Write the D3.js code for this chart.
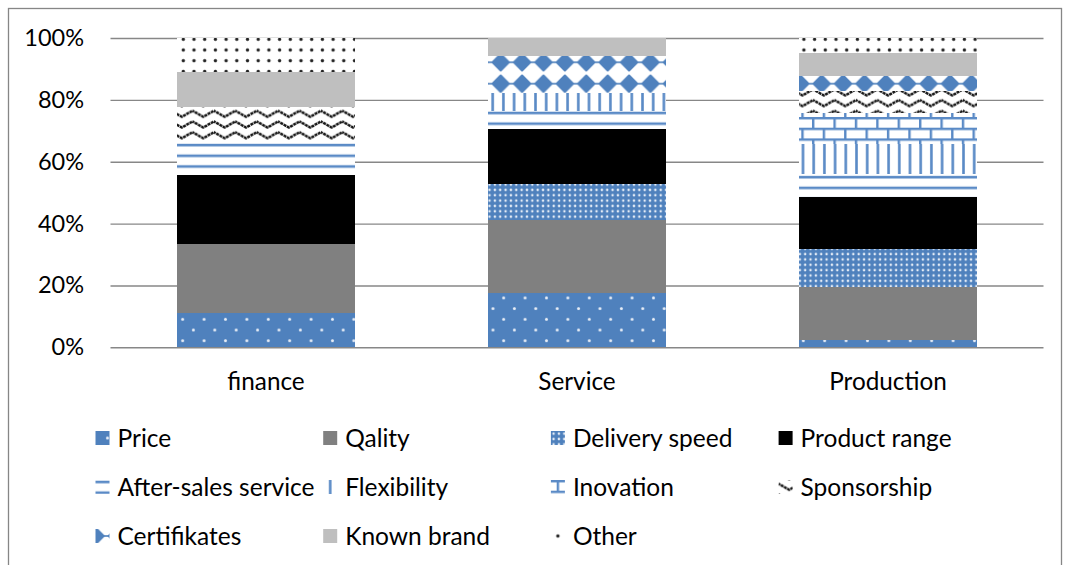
<!DOCTYPE html>
<html><head><meta charset="utf-8">
<script src="https://cdn.jsdelivr.net/npm/d3@7"></script>
<style>
body{margin:0;background:#fff}
svg{display:block}
text{font-family:Lato,'Noto Sans',sans-serif;fill:#000}
</style>
</head><body>
<svg id="chart" width="1065" height="565"></svg>
<script>
// ---------- data (percent of respondents per sector) ----------
const categories = ["finance", "Service", "Production"];
const seriesNames = ["Price", "Qality", "Delivery speed", "Product range",
  "After-sales service", "Flexibility", "Inovation", "Sponsorship",
  "Certifikates", "Known brand", "Other"];
const price        = [11.1, 17.6,  2.4];
const qality       = [22.2, 23.5, 17.1];
const deliverySpeed= [ 0.0, 11.8, 12.2];
const productRange = [22.2, 17.6, 17.1];
const afterSales   = [11.1,  5.9,  7.3];
const flexibility  = [ 0.0,  5.9,  9.8];
const inovation    = [ 0.0,  0.0,  9.8];
const sponsorship  = [11.1,  0.0,  7.3];
const certifikates = [ 0.0, 11.8,  4.9];
const knownBrand   = [11.1,  5.9,  7.3];
const other        = [11.1,  0.0,  4.9];
const yTicks = [0, 0.2, 0.4, 0.6, 0.8, 1.0];

const seriesValues = [price, qality, deliverySpeed, productRange, afterSales,
  flexibility, inovation, sponsorship, certifikates, knownBrand, other];
const rows = categories.map((c, i) => {
  const r = {category: c};
  seriesNames.forEach((s, k) => r[s] = seriesValues[k][i]);
  return r;
});

// ---------- layout ----------
const plot = {left: 110.5, right: 1043.5, top: 38, bottom: 347.3};
const BLUE = "#4F81BD", LINEBLUE = "#5A8AC6";
const T = 10.7;

const svg = d3.select("#chart");
svg.append("rect").attr("x", 8.5).attr("y", 8.5).attr("width", 1053).attr("height", 600)
  .attr("fill", "#fff").attr("stroke", "#868686").attr("stroke-width", 1.3);

// ---------- patterns ----------
const defs = svg.append("defs");
function pat(id, w, h, ox, oy) {
  return defs.append("pattern").attr("id", id).attr("patternUnits", "userSpaceOnUse")
    .attr("width", w).attr("height", h).attr("x", ox).attr("y", oy);
}
// Price: blue with sparse white dots
{ const p = pat("pPrice", 2*T, 2*T, -4.55, 3.65);
  p.append("rect").attr("width", 2*T).attr("height", 2*T).attr("fill", BLUE);
  [[T/2, T/2], [1.5*T, 1.5*T]].forEach(([x, y]) =>
    p.append("circle").attr("cx", x).attr("cy", y).attr("r", 1.5).attr("fill", "#e8eef7")); }
// Delivery speed: blue with dense white dot grid
{ const p = pat("pDelivery", T/2, T/2, 0, 0);
  p.append("rect").attr("width", T/2).attr("height", T/2).attr("fill", BLUE);
  p.append("circle").attr("cx", T/4).attr("cy", T/4).attr("r", 1.25).attr("fill", "#e4ecf6"); }
// After-sales: horizontal lines
{ const p = pat("pAfter", T, T, 0, 0);
  p.append("rect").attr("width", T).attr("height", T).attr("fill", "#fff");
  p.append("rect").attr("y", 6 - 1.3).attr("width", T).attr("height", 2.6).attr("fill", LINEBLUE); }
// Flexibility: vertical lines
{ const p = pat("pFlex", T, T, -4.85, 0);
  p.append("rect").attr("width", T).attr("height", T).attr("fill", "#fff");
  p.append("rect").attr("x", T/2 - 1.3).attr("width", 2.6).attr("height", T).attr("fill", LINEBLUE); }
// Inovation: brick
{ const p = pat("pInov", 2*T, 2*T, -1.2, -0.7);
  p.append("rect").attr("width", 2*T).attr("height", 2*T).attr("fill", "#fff");
  p.append("rect").attr("x", 0).attr("y", 0).attr("width", 2*T).attr("height", 2.4).attr("fill", LINEBLUE);
  p.append("rect").attr("x", 0).attr("y", T).attr("width", 2*T).attr("height", 2.4).attr("fill", LINEBLUE);
  p.append("rect").attr("x", T).attr("y", 0).attr("width", 2.4).attr("height", T).attr("fill", LINEBLUE);
  p.append("rect").attr("x", 0).attr("y", T).attr("width", 2.4).attr("height", T).attr("fill", LINEBLUE); }
// Sponsorship: zigzag waves
{ const p = pat("pSpons", 2*T, T, 0, 1.5);
  p.append("rect").attr("width", 2*T).attr("height", T).attr("fill", "#fff");
  p.append("polyline").attr("points", `${-T},8.3 0,2.3 ${T},8.3 ${2*T},2.3 ${3*T},8.3`)
    .attr("fill", "none").attr("stroke", "#151515").attr("stroke-width", 2.5)
    .attr("stroke-dasharray", "3,0.7"); }
// Certifikates: blue diamonds
{ const p = pat("pCert", 2*T, 2*T, -2.2, 8.8);
  p.append("rect").attr("width", 2*T).attr("height", 2*T).attr("fill", "#fff");
  const d = 8.2;
  p.append("polygon").attr("points", `${T-d},${T} ${T},${T-d} ${T+d},${T} ${T},${T+d}`)
    .attr("fill", BLUE).attr("stroke", BLUE).attr("stroke-width", 2).attr("stroke-linejoin", "round");
  [[0, T], [2*T, T]].forEach(([x, y]) =>
    p.append("rect").attr("x", x - 3).attr("y", y - 0.8).attr("width", 6).attr("height", 1.6).attr("fill", BLUE)); }
// Other: black dots on white
{ const p = pat("pOther", T, T, -3.95, 1.85);
  p.append("rect").attr("width", T).attr("height", T).attr("fill", "#fff");
  p.append("circle").attr("cx", T/2).attr("cy", T/2).attr("r", 1.7).attr("fill", "#222"); }

const fills = ["url(#pPrice)", "#808080", "url(#pDelivery)", "#000000", "url(#pAfter)",
  "url(#pFlex)", "url(#pInov)", "url(#pSpons)", "url(#pCert)", "#BFBFBF", "url(#pOther)"];
const color = d3.scaleOrdinal().domain(seriesNames).range(fills);
// pattern phase used inside each legend swatch
const legendPhase = [[-0.5, 12.7], [0, 0], [0, 0], [0, 0], [0, 4], [-6.5, 0],
  [3.7, -0.7], [0, 0], [8.5, 12.5], [0, 0], [-5.6, 0.2]];

// ---------- scales ----------
const x = d3.scaleBand().domain(categories).range([plot.left, plot.right])
  .paddingInner(0.428).paddingOuter(0.214);
const y = d3.scaleLinear().domain([0, 1]).range([plot.bottom, plot.top]);

// gridlines + y labels
const yAxis = svg.append("g").attr("transform", `translate(${plot.left},0)`)
  .call(d3.axisLeft(y).tickValues(yTicks).tickFormat(d3.format(".0%"))
    .tickSize(-(plot.right - plot.left)).tickPadding(26.5));
yAxis.select(".domain").remove();
yAxis.selectAll(".tick line").attr("stroke", "#878787").attr("stroke-width", 1.4);
yAxis.selectAll(".tick text").attr("font-size", 23.5).attr("font-family", "Lato").attr("fill", "#000");

// ---------- bars ----------
const stack = d3.stack().keys(seriesNames).offset(d3.stackOffsetExpand);
const layers = stack(rows);
svg.append("g").selectAll("g").data(layers).join("g")
  .attr("fill", d => color(d.key))
  .selectAll("rect").data(d => d).join("rect")
  .attr("x", d => x(d.data.category))
  .attr("width", x.bandwidth())
  .attr("y", d => y(d[1]))
  .attr("height", d => Math.max(0, y(d[0]) - y(d[1])))
  .attr("shape-rendering", "crispEdges");

// category labels
const xAxis = svg.append("g").attr("transform", `translate(0,${plot.bottom})`)
  .call(d3.axisBottom(x).tickSize(0).tickPadding(25));
xAxis.select(".domain").remove();
xAxis.selectAll(".tick text").attr("font-size", 24.3).attr("font-family", "Lato").attr("fill", "#000");

// ---------- legend ----------
const legend = svg.append("g");
const colW = 227.7, rowH = 49, lx0 = 95.5, ly0 = 438;
const items = legend.selectAll("g").data(seriesNames).join("g")
  .attr("transform", (d, i) => `translate(${lx0 + (i % 4) * colW},${ly0 + Math.floor(i / 4) * rowH})`);
items.append("g")
  .attr("transform", (d, i) => `translate(${-legendPhase[i][0]},${-7 - legendPhase[i][1]})`)
  .append("rect")
  .attr("x", (d, i) => legendPhase[i][0]).attr("y", (d, i) => legendPhase[i][1])
  .attr("width", 14).attr("height", 14).attr("fill", d => color(d));
items.append("text").attr("x", 22).attr("dy", "0.35em")
  .attr("font-size", 24.5).text(d => d);
</script>
</body></html>
